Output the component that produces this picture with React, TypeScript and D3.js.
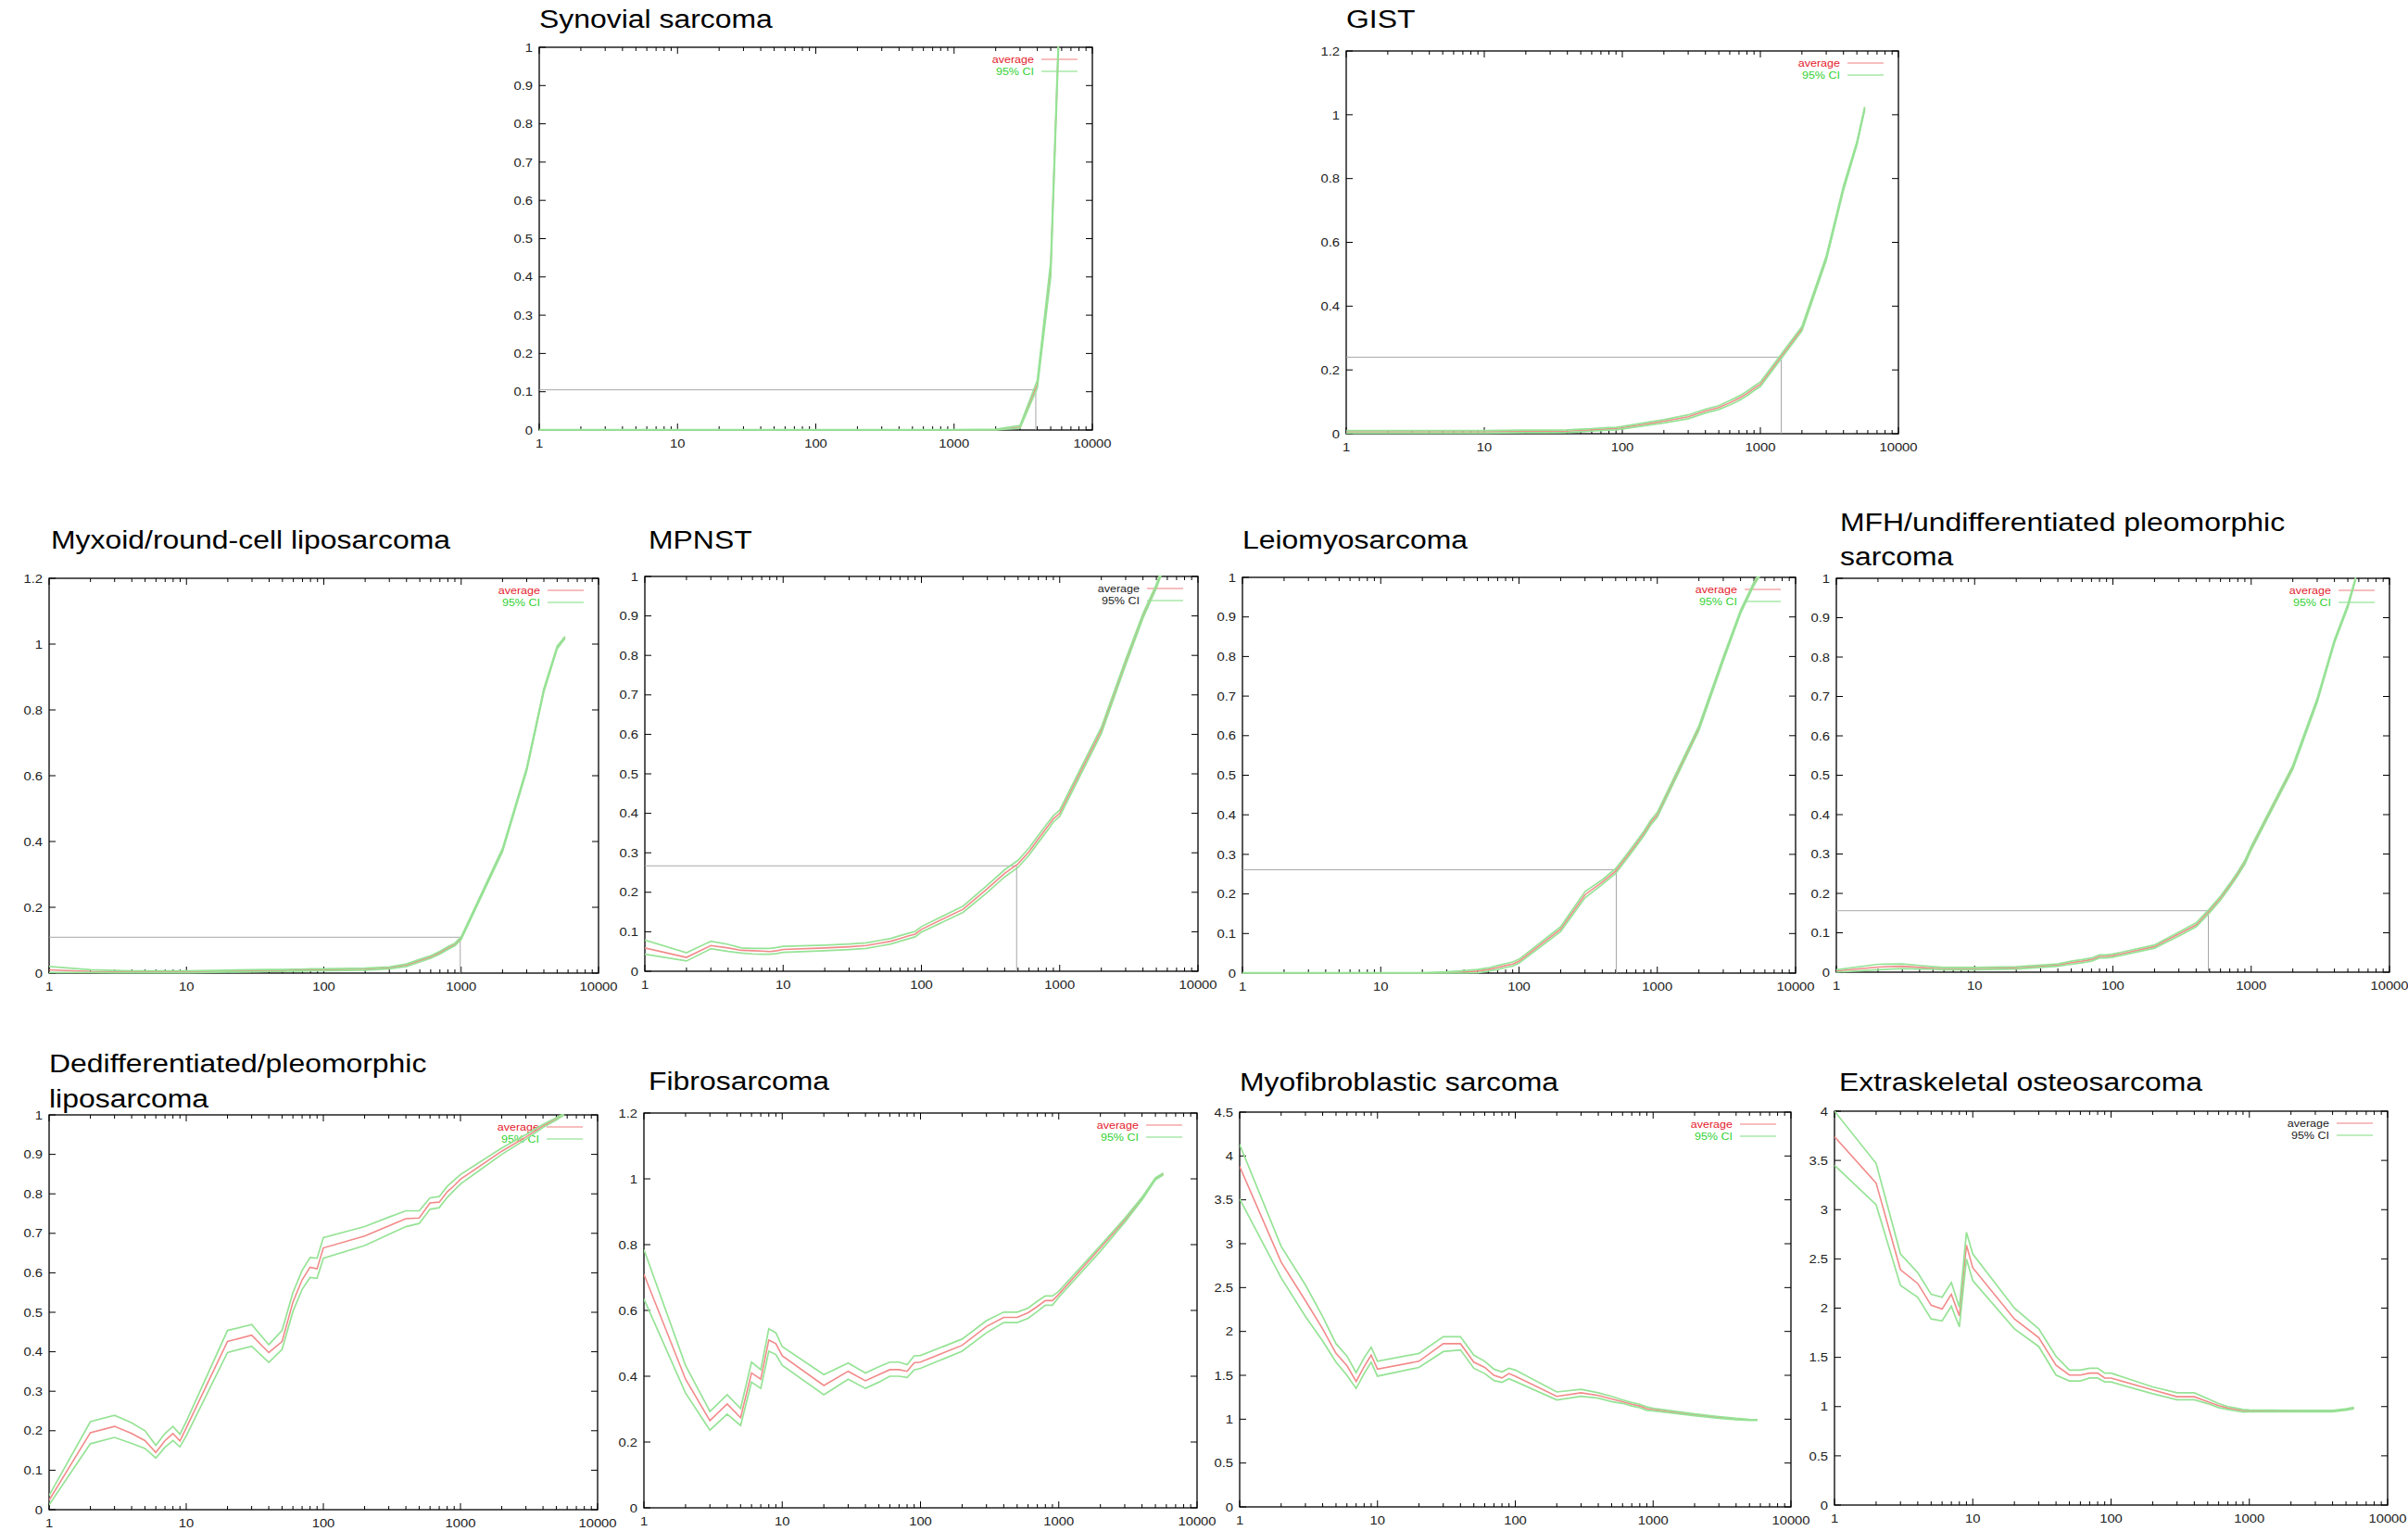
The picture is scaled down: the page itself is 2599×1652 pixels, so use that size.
import { useEffect, useRef } from "react"
import * as d3 from "d3"

// shared x grid (sample size), log scale
const xs = [1, 2, 3, 4, 5, 6, 7, 8, 9, 10, 20, 30, 40, 50, 60, 70, 80, 90, 100, 200, 300, 400, 500, 600, 700, 800, 900, 1000, 2000, 3000, 4000, 5000, 5700]

const xTickValues = [1, 10, 100, 1000, 10000]
const xTickLabels = ["1", "10", "100", "1000", "10000"]

const yTicksTenth = [0, 0.1, 0.2, 0.3, 0.4, 0.5, 0.6, 0.7, 0.8, 0.9, 1]
const yTicksFifth = [0, 0.2, 0.4, 0.6, 0.8, 1, 1.2]
const yTicksHalf45 = [0, 0.5, 1, 1.5, 2, 2.5, 3, 3.5, 4, 4.5]
const yTicksHalf40 = [0, 0.5, 1, 1.5, 2, 2.5, 3, 3.5, 4]

const synAvg = [0, 0, 0, 0, 0, 0, 0, 0, 0, 0, 0, 0, 0, 0, 0, 0, 0, 0, 0, 0, 0, 0, 0, 0, 0, 0, 0, 0, 0, 0.008, 0.12, 0.42, 1.02]
const synLo = [0, 0, 0, 0, 0, 0, 0, 0, 0, 0, 0, 0, 0, 0, 0, 0, 0, 0, 0, 0, 0, 0, 0, 0, 0, 0, 0, 0, 0, 0.005, 0.11, 0.4, 1.0]
const synHi = [0.001, 0.001, 0.001, 0.001, 0.001, 0.001, 0.001, 0.001, 0.001, 0.001, 0.001, 0.001, 0.001, 0.001, 0.001, 0.001, 0.001, 0.001, 0.001, 0.001, 0.001, 0.001, 0.001, 0.001, 0.001, 0.001, 0.001, 0.001, 0.002, 0.012, 0.13, 0.44, 1.04]

const gistAvg = [0.006, 0.006, 0.006, 0.006, 0.006, 0.006, 0.006, 0.006, 0.006, 0.006, 0.007, 0.007, 0.008, 0.01, 0.012, 0.014, 0.015, 0.016, 0.019, 0.039, 0.053, 0.071, 0.082, 0.097, 0.111, 0.126, 0.142, 0.155, 0.329, 0.55, 0.77, 0.91, 1.02]
const gistLo = [0.002, 0.002, 0.002, 0.002, 0.002, 0.002, 0.002, 0.002, 0.002, 0.002, 0.003, 0.003, 0.004, 0.006, 0.008, 0.01, 0.011, 0.012, 0.015, 0.034, 0.047, 0.065, 0.076, 0.09, 0.104, 0.119, 0.135, 0.148, 0.322, 0.543, 0.763, 0.905, 1.015]
const gistHi = [0.01, 0.01, 0.01, 0.01, 0.01, 0.01, 0.01, 0.01, 0.01, 0.01, 0.011, 0.011, 0.012, 0.014, 0.016, 0.018, 0.019, 0.02, 0.023, 0.044, 0.059, 0.077, 0.088, 0.104, 0.118, 0.133, 0.149, 0.162, 0.336, 0.557, 0.777, 0.915, 1.025]

const myxAvg = [0.01, 0.005, 0.004, 0.004, 0.004, 0.004, 0.004, 0.004, 0.004, 0.004, 0.006, 0.007, 0.008, 0.008, 0.009, 0.009, 0.01, 0.01, 0.01, 0.012, 0.016, 0.024, 0.038, 0.049, 0.062, 0.076, 0.087, 0.106, 0.374, 0.62, 0.86, 0.99, 1.02]
const myxLo = [0.002, 0.002, 0.001, 0.001, 0.001, 0.001, 0.001, 0.001, 0.001, 0.001, 0.003, 0.004, 0.005, 0.005, 0.006, 0.006, 0.007, 0.007, 0.007, 0.009, 0.013, 0.02, 0.034, 0.045, 0.058, 0.072, 0.083, 0.102, 0.369, 0.615, 0.855, 0.986, 1.017]
const myxHi = [0.02, 0.01, 0.008, 0.007, 0.007, 0.007, 0.007, 0.007, 0.007, 0.007, 0.009, 0.01, 0.011, 0.011, 0.012, 0.012, 0.013, 0.013, 0.013, 0.015, 0.019, 0.028, 0.042, 0.053, 0.066, 0.08, 0.091, 0.11, 0.379, 0.625, 0.865, 0.994, 1.023]

const mpnstAvg = [0.059, 0.035, 0.065, 0.059, 0.053, 0.052, 0.051, 0.05, 0.052, 0.055, 0.059, 0.062, 0.065, 0.071, 0.076, 0.083, 0.089, 0.094, 0.106, 0.157, 0.209, 0.248, 0.272, 0.303, 0.335, 0.362, 0.386, 0.4, 0.61, 0.783, 0.9, 0.975, 1.03]
const mpnstLo = [0.043, 0.026, 0.057, 0.05, 0.046, 0.044, 0.043, 0.043, 0.045, 0.048, 0.052, 0.055, 0.058, 0.064, 0.069, 0.076, 0.082, 0.087, 0.099, 0.149, 0.2, 0.239, 0.263, 0.294, 0.326, 0.353, 0.378, 0.392, 0.602, 0.776, 0.894, 0.97, 1.025]
const mpnstHi = [0.079, 0.047, 0.076, 0.068, 0.059, 0.058, 0.058, 0.058, 0.06, 0.063, 0.066, 0.069, 0.072, 0.078, 0.083, 0.09, 0.096, 0.101, 0.113, 0.165, 0.218, 0.257, 0.281, 0.312, 0.344, 0.371, 0.394, 0.408, 0.618, 0.79, 0.906, 0.98, 1.035]

const leioAvg = [0, 0, 0, 0, 0, 0, 0, 0, 0, 0, 0, 0.001, 0.003, 0.005, 0.009, 0.014, 0.019, 0.023, 0.03, 0.111, 0.198, 0.23, 0.258, 0.294, 0.325, 0.353, 0.381, 0.4, 0.619, 0.794, 0.913, 0.984, 1.016]
const leioLo = [0, 0, 0, 0, 0, 0, 0, 0, 0, 0, 0, 0, 0, 0.001, 0.005, 0.009, 0.014, 0.018, 0.025, 0.105, 0.19, 0.224, 0.252, 0.288, 0.319, 0.347, 0.375, 0.394, 0.613, 0.789, 0.909, 0.98, 1.012]
const leioHi = [0.001, 0.001, 0.001, 0.001, 0.001, 0.001, 0.001, 0.001, 0.001, 0.001, 0.001, 0.003, 0.006, 0.009, 0.013, 0.019, 0.024, 0.028, 0.035, 0.117, 0.206, 0.236, 0.264, 0.3, 0.331, 0.359, 0.387, 0.406, 0.625, 0.799, 0.917, 0.988, 1.02]

const mfhAvg = [0.003, 0.013, 0.015, 0.012, 0.01, 0.009, 0.009, 0.009, 0.009, 0.009, 0.011, 0.015, 0.018, 0.024, 0.028, 0.032, 0.04, 0.04, 0.042, 0.065, 0.097, 0.12, 0.156, 0.188, 0.22, 0.25, 0.279, 0.315, 0.52, 0.69, 0.84, 0.93, 1.0]
const mfhLo = [0, 0.006, 0.009, 0.008, 0.007, 0.006, 0.006, 0.006, 0.006, 0.006, 0.008, 0.012, 0.015, 0.02, 0.024, 0.028, 0.036, 0.036, 0.038, 0.061, 0.092, 0.115, 0.151, 0.183, 0.215, 0.245, 0.274, 0.31, 0.515, 0.685, 0.836, 0.926, 0.997]
const mfhHi = [0.006, 0.02, 0.021, 0.017, 0.014, 0.012, 0.012, 0.012, 0.012, 0.012, 0.014, 0.018, 0.021, 0.028, 0.032, 0.036, 0.044, 0.044, 0.046, 0.069, 0.102, 0.125, 0.161, 0.193, 0.225, 0.255, 0.284, 0.32, 0.525, 0.695, 0.844, 0.934, 1.003]

const dedAvg = [0.024, 0.195, 0.211, 0.193, 0.175, 0.145, 0.175, 0.193, 0.174, 0.207, 0.426, 0.442, 0.398, 0.426, 0.526, 0.582, 0.614, 0.61, 0.663, 0.693, 0.719, 0.737, 0.739, 0.777, 0.779, 0.805, 0.821, 0.837, 0.908, 0.944, 0.972, 0.99, 1.002]
const dedLo = [0.012, 0.167, 0.183, 0.168, 0.155, 0.131, 0.158, 0.175, 0.159, 0.187, 0.398, 0.414, 0.373, 0.406, 0.502, 0.558, 0.588, 0.586, 0.637, 0.669, 0.697, 0.717, 0.725, 0.761, 0.765, 0.791, 0.809, 0.825, 0.9, 0.938, 0.968, 0.987, 1.0]
const dedHi = [0.036, 0.223, 0.239, 0.22, 0.2, 0.163, 0.193, 0.211, 0.191, 0.223, 0.454, 0.469, 0.418, 0.454, 0.55, 0.606, 0.639, 0.637, 0.689, 0.717, 0.741, 0.757, 0.757, 0.79, 0.793, 0.819, 0.835, 0.849, 0.916, 0.95, 0.976, 0.993, 1.004]

const fibAvg = [0.71, 0.391, 0.265, 0.316, 0.274, 0.41, 0.391, 0.51, 0.499, 0.462, 0.372, 0.415, 0.386, 0.405, 0.42, 0.42, 0.415, 0.441, 0.443, 0.494, 0.551, 0.579, 0.579, 0.593, 0.612, 0.63, 0.63, 0.649, 0.79, 0.874, 0.94, 1.0, 1.015]
const fibLo = [0.635, 0.349, 0.236, 0.285, 0.25, 0.382, 0.363, 0.476, 0.466, 0.433, 0.344, 0.391, 0.363, 0.382, 0.4, 0.4, 0.396, 0.419, 0.424, 0.476, 0.532, 0.563, 0.563, 0.576, 0.597, 0.616, 0.616, 0.64, 0.78, 0.868, 0.936, 0.997, 1.012]
const fibHi = [0.785, 0.433, 0.293, 0.344, 0.302, 0.443, 0.42, 0.544, 0.532, 0.49, 0.405, 0.44, 0.41, 0.429, 0.443, 0.443, 0.435, 0.462, 0.463, 0.513, 0.569, 0.595, 0.595, 0.607, 0.628, 0.644, 0.644, 0.658, 0.797, 0.88, 0.944, 1.003, 1.018]

const myoAvg = [3.88, 2.79, 2.35, 2.03, 1.75, 1.61, 1.43, 1.6, 1.73, 1.57, 1.66, 1.86, 1.86, 1.65, 1.59, 1.5, 1.47, 1.52, 1.49, 1.26, 1.3, 1.27, 1.23, 1.2, 1.17, 1.15, 1.12, 1.11, 1.05, 1.02, 1.0, 0.99, 0.99]
const myoLo = [3.51, 2.61, 2.17, 1.89, 1.65, 1.5, 1.35, 1.52, 1.65, 1.49, 1.59, 1.77, 1.79, 1.58, 1.52, 1.44, 1.42, 1.46, 1.43, 1.22, 1.26, 1.24, 1.2, 1.18, 1.15, 1.13, 1.1, 1.095, 1.04, 1.01, 0.995, 0.985, 0.985]
const myoHi = [4.13, 2.97, 2.53, 2.17, 1.86, 1.72, 1.53, 1.7, 1.82, 1.66, 1.75, 1.94, 1.94, 1.73, 1.66, 1.57, 1.54, 1.58, 1.56, 1.31, 1.34, 1.3, 1.26, 1.22, 1.19, 1.17, 1.14, 1.125, 1.06, 1.03, 1.01, 0.998, 0.995]

const extAvg = [3.74, 3.27, 2.39, 2.25, 2.03, 1.99, 2.14, 1.92, 2.64, 2.41, 1.89, 1.7, 1.42, 1.32, 1.32, 1.34, 1.34, 1.29, 1.29, 1.17, 1.1, 1.1, 1.05, 1.01, 0.985, 0.97, 0.957, 0.957, 0.954, 0.954, 0.954, 0.97, 0.985]
const extLo = [3.45, 3.05, 2.23, 2.11, 1.89, 1.87, 2.02, 1.81, 2.5, 2.28, 1.79, 1.61, 1.32, 1.26, 1.26, 1.29, 1.29, 1.25, 1.25, 1.13, 1.07, 1.07, 1.03, 0.99, 0.97, 0.955, 0.945, 0.947, 0.946, 0.947, 0.947, 0.963, 0.978]
const extHi = [4.0, 3.47, 2.55, 2.36, 2.14, 2.11, 2.26, 2.01, 2.77, 2.55, 2.0, 1.79, 1.51, 1.37, 1.37, 1.39, 1.39, 1.34, 1.34, 1.2, 1.14, 1.14, 1.08, 1.03, 1.0, 0.985, 0.97, 0.967, 0.962, 0.961, 0.961, 0.977, 0.992]

// reference (median) markers: [x, y]
const synRef = [3900, 0.105]
const gistRef = [1416, 0.24]
const myxRef = [985, 0.109]
const mpnstRef = [488, 0.267]
const leioRef = [505, 0.261]
const mfhRef = [490, 0.156]

interface Panel {
  title: string[]
  tx: number
  ty: number[]
  left: number
  right: number
  top: number
  bottom: number
  yMax: number
  yTicks: number[]
  avg: number[]
  lo: number[]
  hi: number[]
  refPt?: number[]
  darkLegend?: boolean
}

const panels: Panel[] = [
  { title: ["Synovial sarcoma"], tx: 582, ty: [30], left: 582, right: 1179, top: 51, bottom: 464, yMax: 1, yTicks: yTicksTenth, avg: synAvg, lo: synLo, hi: synHi, refPt: synRef },
  { title: ["GIST"], tx: 1453, ty: [30], left: 1453, right: 2049, top: 55, bottom: 468, yMax: 1.2, yTicks: yTicksFifth, avg: gistAvg, lo: gistLo, hi: gistHi, refPt: gistRef },
  { title: ["Myxoid/round-cell liposarcoma"], tx: 55, ty: [592], left: 53, right: 646, top: 624, bottom: 1050, yMax: 1.2, yTicks: yTicksFifth, avg: myxAvg, lo: myxLo, hi: myxHi, refPt: myxRef },
  { title: ["MPNST"], tx: 700, ty: [592], left: 696, right: 1293, top: 622, bottom: 1048, yMax: 1, yTicks: yTicksTenth, avg: mpnstAvg, lo: mpnstLo, hi: mpnstHi, refPt: mpnstRef, darkLegend: true },
  { title: ["Leiomyosarcoma"], tx: 1341, ty: [592], left: 1341, right: 1938, top: 623, bottom: 1050, yMax: 1, yTicks: yTicksTenth, avg: leioAvg, lo: leioLo, hi: leioHi, refPt: leioRef },
  { title: ["MFH/undifferentiated pleomorphic", "sarcoma"], tx: 1986, ty: [573, 610], left: 1982, right: 2579, top: 624, bottom: 1049, yMax: 1, yTicks: yTicksTenth, avg: mfhAvg, lo: mfhLo, hi: mfhHi, refPt: mfhRef },
  { title: ["Dedifferentiated/pleomorphic", "liposarcoma"], tx: 53, ty: [1157, 1195], left: 53, right: 645, top: 1203, bottom: 1629, yMax: 1, yTicks: yTicksTenth, avg: dedAvg, lo: dedLo, hi: dedHi },
  { title: ["Fibrosarcoma"], tx: 700, ty: [1176], left: 695, right: 1292, top: 1201, bottom: 1627, yMax: 1.2, yTicks: yTicksFifth, avg: fibAvg, lo: fibLo, hi: fibHi },
  { title: ["Myofibroblastic sarcoma"], tx: 1338, ty: [1177], left: 1338, right: 1933, top: 1200, bottom: 1626, yMax: 4.5, yTicks: yTicksHalf45, avg: myoAvg, lo: myoLo, hi: myoHi },
  { title: ["Extraskeletal osteosarcoma"], tx: 1985, ty: [1177], left: 1980, right: 2577, top: 1199, bottom: 1624, yMax: 4, yTicks: yTicksHalf40, avg: extAvg, lo: extLo, hi: extHi, darkLegend: true },
]

const FONT = "'Liberation Sans', Arial, sans-serif"
const STRETCH = 1.14

export default function App() {
  const ref = useRef<SVGSVGElement | null>(null)

  useEffect(() => {
    const svg = d3.select(ref.current)
    svg.selectAll("*").remove()

    const minor: number[] = []
    for (let d = 1; d < 10000; d *= 10) {
      for (let k = 2; k <= 9; k++) minor.push(d * k)
    }

    panels.forEach((p, idx) => {
      const x = d3.scaleLog().domain([1, 10000]).range([p.left, p.right])
      const y = d3.scaleLinear().domain([0, p.yMax]).range([p.bottom, p.top])
      const g = svg.append("g").attr("font-family", FONT)

      // title
      p.title.forEach((line, i) => {
        g.append("text")
          .attr("transform", `translate(${p.tx},${p.ty[i]}) scale(${STRETCH},1)`)
          .attr("font-size", 28)
          .attr("fill", "#000")
          .text(line)
      })

      // y tick labels and ticks
      p.yTicks.forEach(t => {
        g.append("text")
          .attr("transform", `translate(${p.left - 7},${y(t)}) scale(${STRETCH},1)`)
          .attr("text-anchor", "end")
          .attr("dy", "0.36em")
          .attr("font-size", 13)
          .attr("fill", "#222")
          .text(String(t))
        g.append("line").attr("x1", p.left).attr("x2", p.left + 7).attr("y1", y(t)).attr("y2", y(t))
          .attr("stroke", "#000").attr("stroke-width", 1)
        g.append("line").attr("x1", p.right - 7).attr("x2", p.right).attr("y1", y(t)).attr("y2", y(t))
          .attr("stroke", "#000").attr("stroke-width", 1)
      })

      // x tick labels and ticks
      xTickValues.forEach((t, i) => {
        g.append("text")
          .attr("transform", `translate(${x(t)},${p.bottom + 19}) scale(${STRETCH},1)`)
          .attr("text-anchor", "middle")
          .attr("font-size", 13)
          .attr("fill", "#222")
          .text(xTickLabels[i])
        g.append("line").attr("x1", x(t)).attr("x2", x(t)).attr("y1", p.bottom).attr("y2", p.bottom - 7)
          .attr("stroke", "#000").attr("stroke-width", 1)
        g.append("line").attr("x1", x(t)).attr("x2", x(t)).attr("y1", p.top).attr("y2", p.top + 7)
          .attr("stroke", "#000").attr("stroke-width", 1)
      })
      minor.forEach(t => {
        g.append("line").attr("x1", x(t)).attr("x2", x(t)).attr("y1", p.bottom).attr("y2", p.bottom - 4)
          .attr("stroke", "#000").attr("stroke-width", 1)
        g.append("line").attr("x1", x(t)).attr("x2", x(t)).attr("y1", p.top).attr("y2", p.top + 4)
          .attr("stroke", "#000").attr("stroke-width", 1)
      })

      // frame
      g.append("rect")
        .attr("x", p.left).attr("y", p.top)
        .attr("width", p.right - p.left).attr("height", p.bottom - p.top)
        .attr("fill", "none").attr("stroke", "#000").attr("stroke-width", 1.3)

      // reference lines
      if (p.refPt) {
        const rx = x(p.refPt[0])
        const ry = y(p.refPt[1])
        g.append("line").attr("x1", p.left).attr("x2", rx).attr("y1", ry).attr("y2", ry)
          .attr("stroke", "#a8a8a8").attr("stroke-width", 1)
        g.append("line").attr("x1", rx).attr("x2", rx).attr("y1", ry).attr("y2", p.bottom)
          .attr("stroke", "#a8a8a8").attr("stroke-width", 1)
      }

      // legend
      const legendTxt = p.darkLegend ? ["#1a1a1a", "#1a1a1a"] : ["#e3202c", "#33d133"]
      const legendLine = ["#f4a8a8", "#a8e8a8"]
      const labels = ["average", "95% CI"]
      labels.forEach((lab, i) => {
        const by = p.top + 17 + i * 13
        g.append("text")
          .attr("transform", `translate(${p.right - 63},${by}) scale(${STRETCH},1)`)
          .attr("text-anchor", "end")
          .attr("font-size", 11)
          .attr("fill", legendTxt[i])
          .text(lab)
        g.append("line").attr("x1", p.right - 55).attr("x2", p.right - 16).attr("y1", by - 4).attr("y2", by - 4)
          .attr("stroke", legendLine[i]).attr("stroke-width", 1.5)
      })

      // curves
      const clipId = `clip-${idx}`
      svg.append("clipPath").attr("id", clipId)
        .append("rect")
        .attr("x", p.left).attr("y", p.top - 1)
        .attr("width", p.right - p.left).attr("height", p.bottom - p.top + 2)

      const line = d3.line<number>()
        .x((_, i) => x(xs[i]))
        .y(d => y(d))

      const cg = g.append("g").attr("clip-path", `url(#${clipId})`)
      cg.append("path").attr("d", line(p.avg)).attr("fill", "none")
        .attr("stroke", "#f28a8a").attr("stroke-width", 1.6)
      ;[p.lo, p.hi].forEach(s => {
        cg.append("path").attr("d", line(s)).attr("fill", "none")
          .attr("stroke", "#96e396").attr("stroke-width", 1.7)
      })
    })
  }, [])

  return (
    <svg
      ref={ref}
      width={2599}
      height={1652}
      style={{ position: "absolute", left: 0, top: 0, background: "#fff", display: "block" }}
    />
  )
}
